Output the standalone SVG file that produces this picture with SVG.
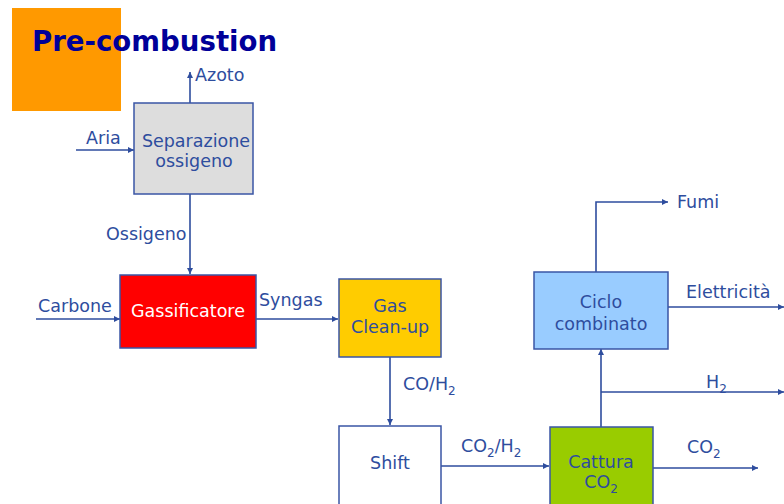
<svg xmlns="http://www.w3.org/2000/svg" width="784" height="504" viewBox="0 0 784 504">
<defs>
<style>
.t{font-family:"DejaVu Sans","Verdana",sans-serif;font-size:17.5px;fill:#2E4D9E}
.c{text-anchor:middle}
.s{font-size:12px}
.box{stroke:#3A55A5;stroke-width:1.5}
.ln{stroke:#2E4D9E;stroke-width:1.6;fill:none}
.ar{marker-end:url(#ah)}
</style>
<marker id="ah" markerUnits="userSpaceOnUse" markerWidth="7" markerHeight="7" refX="6" refY="3.5" orient="auto">
<path d="M0,0.5 L6,3.5 L0,6.5 z" fill="#2E4D9E"/>
</marker>
</defs>
<rect width="784" height="504" fill="#FFFFFF"/>
<rect x="12" y="8" width="109" height="103" fill="#FF9900"/>
<text x="32" y="51" font-family="DejaVu Sans,Verdana,sans-serif" font-weight="bold" font-size="27.6" fill="#000099">Pre-combustion</text>

<g id="connectors">
<path class="ln ar" d="M190,103 V72"/>
<path class="ln ar" d="M76,150 H134"/>
<path class="ln ar" d="M190,194 V274"/>
<path class="ln ar" d="M36,319 H120"/>
<path class="ln ar" d="M256,319 H338"/>
<path class="ln ar" d="M390,357 V425"/>
<path class="ln ar" d="M441,466 H549"/>
<path class="ln ar" d="M653,468 H758"/>
<path class="ln ar" d="M601,427 V349"/>
<path class="ln ar" d="M601,392 H784"/>
<path class="ln ar" d="M596,272 V202 H668"/>
<path class="ln ar" d="M668,307 H784"/>
<text class="t" x="195" y="81">Azoto</text>
<text class="t" x="86" y="144">Aria</text>
<text class="t" x="106" y="240">Ossigeno</text>
<text class="t" x="38" y="312">Carbone</text>
<text class="t" x="259" y="306">Syngas</text>
<text class="t" x="403" y="390">CO/H<tspan class="s" dy="5">2</tspan></text>
<text class="t" x="461" y="452">CO<tspan class="s" dy="5">2</tspan><tspan dy="-5">/H</tspan><tspan class="s" dy="5">2</tspan></text>
<text class="t" x="687" y="453">CO<tspan class="s" dy="5">2</tspan></text>
<text class="t" x="706" y="388">H<tspan class="s" dy="5">2</tspan></text>
<text class="t" x="677" y="208">Fumi</text>
<text class="t" x="686" y="298">Elettricità</text>
</g>

<g id="separazione">
<rect class="box" x="134" y="103" width="119" height="91" fill="#DDDDDD"/>
<text class="t c" x="196" y="147">Separazione</text>
<text class="t c" x="194" y="167">ossigeno</text>
</g>
<g id="gassificatore">
<rect class="box" x="120" y="275" width="136" height="73" fill="#FF0000"/>
<text class="t c" x="188" y="317" style="fill:#FFFFFF">Gassificatore</text>
</g>
<g id="cleanup">
<rect class="box" x="339" y="279" width="102" height="78" fill="#FFCC00"/>
<text class="t c" x="390" y="312">Gas</text>
<text class="t c" x="390" y="333">Clean-up</text>
</g>
<g id="shift">
<rect class="box" x="339" y="426" width="102" height="80" fill="#FFFFFF"/>
<text class="t c" x="390" y="469">Shift</text>
</g>
<g id="cattura">
<rect class="box" x="550" y="427" width="103" height="80" fill="#99CC00"/>
<text class="t c" x="601" y="468">Cattura</text>
<text class="t c" x="601" y="488">CO<tspan class="s" dy="5">2</tspan></text>
</g>
<g id="ciclo">
<rect class="box" x="534" y="272" width="134" height="77" fill="#99CCFF"/>
<text class="t c" x="601" y="308">Ciclo</text>
<text class="t c" x="601" y="330">combinato</text>
</g>
</svg>
